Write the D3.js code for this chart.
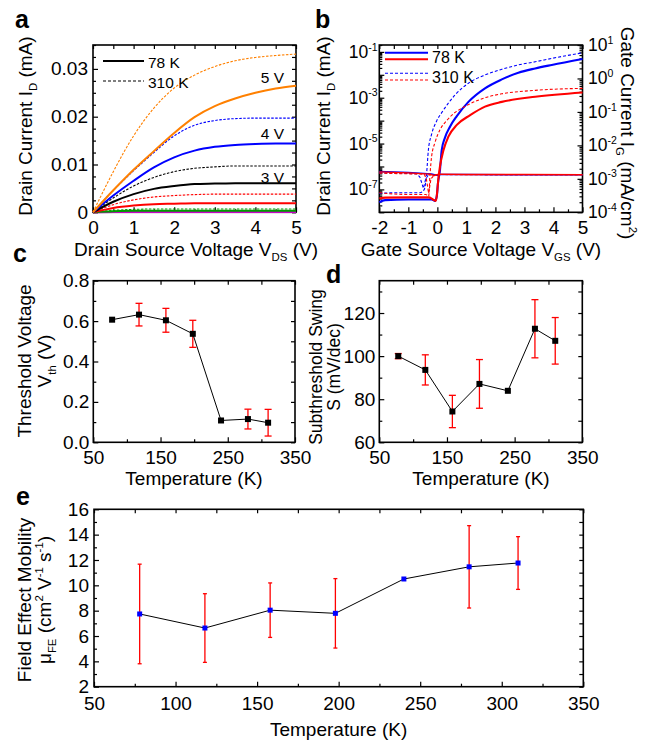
<!DOCTYPE html>
<html>
<head>
<meta charset="utf-8">
<script src="https://cdn.jsdelivr.net/npm/d3@7"></script>
<style>
  body { margin: 0; background: #fff; }
  svg { display: block; }
  text { font-family: "Liberation Sans", Arial, Helvetica, sans-serif; fill: #000; }
</style>
</head>
<body>
<svg id="fig" width="655" height="742"></svg>
<script>
// ---------- (a) output characteristics, I_D vs V_DS ----------
const vds = [0, 0.5, 1, 1.5, 2, 2.5, 3, 3.5, 4, 4.5, 5];
const id5V_78K  = [0, 0.0046, 0.0089, 0.0128, 0.0166, 0.0199, 0.0222, 0.0238, 0.0250, 0.0259, 0.0265];
const id5V_310K = [0, 0.0085, 0.0160, 0.0218, 0.0260, 0.0287, 0.0305, 0.0317, 0.0324, 0.0328, 0.0331];
const id4V_78K  = [0, 0.0035, 0.0066, 0.0094, 0.0115, 0.0129, 0.0137, 0.0141, 0.0143, 0.0144, 0.0144];
const id4V_310K = [0, 0.0046, 0.0087, 0.0125, 0.0160, 0.0182, 0.0192, 0.0196, 0.0197, 0.0197, 0.0197];
const id3V_78K  = [0, 0.0022, 0.0038, 0.0049, 0.0055, 0.0059, 0.0060, 0.0061, 0.0061, 0.0061, 0.0061];
const id3V_310K = [0, 0.0030, 0.0055, 0.0073, 0.0085, 0.0092, 0.0095, 0.0097, 0.0097, 0.0097, 0.0097];
const id2V_78K  = [0, 0.0009, 0.0014, 0.0017, 0.0018, 0.0019, 0.0019, 0.0019, 0.0019, 0.0019, 0.0019];
const id2V_310K = [0, 0.0016, 0.0026, 0.0032, 0.0035, 0.0037, 0.0038, 0.0038, 0.0038, 0.0038, 0.0038];
const id1V_78K  = [0, 0.0002, 0.0003, 0.0003, 0.0003, 0.0003, 0.0003, 0.0003, 0.0003, 0.0003, 0.0003];
const id1V_310K = [0, 0.0004, 0.0006, 0.0007, 0.0007, 0.0007, 0.0007, 0.0007, 0.0007, 0.0007, 0.0007];
const id0V_78K  = [0, 0.00005, 0.00005, 0.00005, 0.00005, 0.00005, 0.00005, 0.00005, 0.00005, 0.00005, 0.00005];
const id0V_310K = [0, 0.0001, 0.0001, 0.0001, 0.0001, 0.0001, 0.0001, 0.0001, 0.0001, 0.0001, 0.0001];
const gateLabels = ["5 V", "4 V", "3 V"];

// ---------- (b) transfer characteristics, I_D and I_G vs V_GS ----------
const vgsBlue78K = [-2, -1.8, -1.0, -0.2, -0.08, -0.02, 0.02, 0.09, 0.15, 0.26, 0.44, 0.67, 1.07, 1.64, 2.22, 2.79, 3.37, 3.94, 5];
const idBlue78K  = [2.75e-8, 3.39e-8, 3.63e-8, 3.63e-8, 3.16e-8, 5.0e-8, 1.82e-7, 6.9e-7, 5.1e-6, 1.78e-5, 5.6e-5, 1.58e-4, 6.6e-4, 2.57e-3, 6.3e-3, 1.23e-2, 1.9e-2, 2.7e-2, 4.9e-2];
const vgsRed78K  = [-2, -1.8, -1.0, -0.3, -0.14, -0.05, 0.0, 0.03, 0.09, 0.21, 0.38, 0.67, 1.13, 1.64, 2.22, 3.37, 5];
const idRed78K   = [3.98e-8, 4.37e-8, 4.47e-8, 4.47e-8, 3.55e-8, 3.16e-8, 9.3e-8, 2.5e-7, 1.0e-6, 5.1e-6, 2.0e-5, 6.5e-5, 1.74e-4, 4.1e-4, 6.6e-4, 1.1e-3, 1.7e-3];
const vgsBlue310K = [-2, -1.5, -1.0, -0.6, -0.45, -0.37, -0.31, -0.2, -0.02, 0.15, 0.61, 1.07, 1.64, 2.22, 2.79, 3.37, 3.94, 5];
const idBlue310K  = [6.6e-8, 7.1e-8, 7.1e-8, 7.1e-8, 1.0e-7, 5.0e-7, 5.1e-6, 2.5e-5, 1.0e-4, 2.24e-4, 1.32e-3, 4.3e-3, 9.8e-3, 1.74e-2, 2.7e-2, 3.7e-2, 5.2e-2, 9.1e-2];
const vgsRed310K  = [-2, -1.5, -1.0, -0.4, -0.3, -0.25, -0.2, -0.08, 0.09, 0.32, 0.5, 0.84, 1.07, 1.64, 2.22, 3.37, 5];
const idRed310K   = [7.1e-8, 6.3e-8, 6.0e-8, 6.0e-8, 5.0e-8, 5.0e-7, 2.6e-6, 1.12e-5, 4.0e-5, 1.0e-4, 1.74e-4, 3.5e-4, 5.0e-4, 1.0e-3, 1.48e-3, 2.1e-3, 2.57e-3];

const vgsGateBlue78K = [-2, -1, -0.2, 0, 0.1, 1, 3, 5];
const igBlue78K      = [1.66e-3, 1.55e-3, 1.41e-3, 1.26e-3, 1.35e-3, 1.35e-3, 1.32e-3, 1.32e-3];
const vgsGateRed78K  = [-2, -1, -0.3, -0.1, 0.05, 1, 3, 5];
const igRed78K       = [1.62e-3, 1.51e-3, 1.38e-3, 1.26e-3, 1.38e-3, 1.35e-3, 1.35e-3, 1.32e-3];
const vgsGateBlue310K = [-2, -1, -0.7, -0.6, -0.48, -0.4, -0.3, 0, 1, 3, 5];
const igBlue310K      = [1.51e-3, 1.45e-3, 1.41e-3, 1.12e-3, 5.2e-4, 1.0e-3, 1.35e-3, 1.35e-3, 1.35e-3, 1.32e-3, 1.32e-3];
const vgsGateRed310K  = [-2, -1, -0.45, -0.38, -0.3, -0.22, -0.1, 0, 1, 3, 5];
const igRed310K       = [1.48e-3, 1.41e-3, 1.38e-3, 1.0e-3, 3.7e-4, 1.0e-3, 1.32e-3, 1.35e-3, 1.32e-3, 1.32e-3, 1.32e-3];

// ---------- (c)-(e) temperature dependence ----------
const temps  = [78, 118, 158, 198, 240, 280, 310];
const vth    = [0.607, 0.632, 0.604, 0.537, 0.108, 0.115, 0.097];
const vthErr = [0, 0.056, 0.059, 0.067, 0, 0.049, 0.066];
const swing    = [100, 93.6, 74.3, 87.1, 83.9, 112.7, 107.1];
const swingErr = [1.2, 7.0, 7.5, 11.3, 0, 13.5, 10.8];
const mobility    = [7.74, 6.63, 8.04, 7.79, 10.5, 11.46, 11.76];
const mobilityErr = [3.93, 2.71, 2.15, 2.74, 0, 3.25, 2.08];

// tick layouts
const aXTicks = [0, 1, 2, 3, 4, 5];
const aYTicks = [0, 0.01, 0.02, 0.03];
const bXTicks = [-2, -1, 0, 1, 2, 3, 4, 5];
const bLeftLabelExps  = [-1, -3, -5, -7];
const bRightLabelExps = [1, 0, -1, -2, -3, -4];
const tTicks = [50, 150, 250, 350];
const cYTicks = [0, 0.2, 0.4, 0.6, 0.8];
const dYTicks = [60, 80, 100, 120];
const eXTicks = [50, 100, 150, 200, 250, 300, 350];
const eYTicks = [2, 4, 6, 8, 10, 12, 14, 16];

const BLUE = "#0000ff", RED = "#ff0000", ORANGE = "#ff8000", GREEN = "#009a00", MAGENTA = "#c800c8";
const FS = 19;
const svg = d3.select("#fig");

function styleAxis(sel, fs) {
  sel.select(".domain").remove();
  sel.selectAll("line").attr("stroke", "#000").attr("stroke-width", 1.2);
  sel.attr("font-size", fs).attr("font-family", null);
  sel.selectAll("text").attr("fill", "#000");
}

// box with inward ticks on all four sides
function frame(x, y, o) {
  const g = svg.append("g");
  const [xl, xr] = x.range(), [yb, yt] = y.range();
  const fs = o.fs || FS;
  g.append("g").attr("class", "xlab").attr("transform", `translate(0,${yb})`)
    .call(d3.axisBottom(x).tickValues(o.xMaj).tickSize(-5).tickPadding(o.xPad).tickFormat(o.xFmt || (() => "")))
    .call(s => styleAxis(s, fs));
  g.append("g").attr("transform", `translate(0,${yt})`)
    .call(d3.axisTop(x).tickValues(o.xMaj.concat(o.xMin)).tickSize(-4).tickFormat(() => ""))
    .call(s => styleAxis(s, fs));
  if (o.xMin.length)
    g.append("g").attr("transform", `translate(0,${yb})`)
      .call(d3.axisBottom(x).tickValues(o.xMin).tickSize(-3).tickFormat(() => ""))
      .call(s => styleAxis(s, fs));
  if (o.yMaj) {
    g.append("g").attr("transform", `translate(${xl},0)`)
      .call(d3.axisLeft(y).tickValues(o.yMaj).tickSize(-5).tickPadding(o.yPad).tickFormat(o.yFmt || (() => "")))
      .call(s => styleAxis(s, fs));
    g.append("g").attr("transform", `translate(${xl},0)`)
      .call(d3.axisLeft(y).tickValues(o.yMin).tickSize(-3).tickFormat(() => ""))
      .call(s => styleAxis(s, fs));
    g.append("g").attr("transform", `translate(${xr},0)`)
      .call(d3.axisRight(y).tickValues(o.yMaj.concat(o.yMin)).tickSize(-4).tickFormat(() => ""))
      .call(s => styleAxis(s, fs));
  }
  g.append("rect").attr("x", xl).attr("y", yt).attr("width", xr - xl).attr("height", yb - yt)
    .attr("fill", "none").attr("stroke", "#000").attr("stroke-width", 1.6);
  return g;
}

// text made of plain / sub / sup pieces
function richText(parent, parts, fs) {
  const t = parent.append("text").attr("font-size", fs);
  let shift = 0;
  parts.forEach(p => {
    const [s, k] = Array.isArray(p) ? p : [p, ""];
    const target = k === "sub" ? 0.28 * fs : k === "sup" ? -0.42 * fs : 0;
    t.append("tspan").attr("dy", (target - shift).toFixed(2))
      .attr("font-size", k ? (fs * 0.6).toFixed(1) : fs).text(s);
    shift = target;
  });
  return t;
}
function label(x, y, angle, parts, fs, anchor) {
  return richText(svg, parts, fs || FS)
    .attr("transform", `translate(${x},${y}) rotate(${angle || 0})`)
    .attr("text-anchor", anchor || "middle");
}
function panelLetter(s, x, y) {
  svg.append("text").attr("x", x).attr("y", y).attr("font-size", 25).attr("font-weight", "bold").text(s);
}
function minorRange(a, b, step, skip) {
  return d3.range(a, b + step / 2, step).filter(v => !skip.some(m => Math.abs(m - v) < step / 10));
}

// ================= panel a =================
const ax = d3.scaleLinear().domain([0, 5]).range([93, 296]);
const ay = d3.scaleLinear().domain([0, 0.035]).range([212.3, 45]);
frame(ax, ay, {
  xMaj: aXTicks, xMin: minorRange(0.5, 4.5, 1, []), xPad: 8, xFmt: d3.format("d"),
  yMaj: aYTicks, yMin: minorRange(0, 0.035, 0.0025, aYTicks), yPad: 5,
  yFmt: v => v === 0 ? "0" : d3.format(".2f")(v)
});
const aLine = arr => d3.line().x((d, i) => ax(vds[i])).y(d => ay(d)).curve(d3.curveMonotoneX)(arr);
const aSeries = [
  [id0V_310K, MAGENTA, true], [id0V_78K, MAGENTA, false],
  [id1V_310K, GREEN, true], [id1V_78K, GREEN, false],
  [id2V_310K, RED, true], [id2V_78K, RED, false],
  [id3V_310K, "#000", true], [id3V_78K, "#000", false],
  [id4V_310K, BLUE, true], [id4V_78K, BLUE, false],
  [id5V_310K, ORANGE, true], [id5V_78K, ORANGE, false]
];
aSeries.forEach(([arr, c, dashed]) => {
  svg.append("path").attr("d", aLine(arr)).attr("fill", "none").attr("stroke", c)
    .attr("stroke-width", dashed ? 1.1 : 2).attr("stroke-dasharray", dashed ? "2.5,1.5" : null);
});
[83, 139, 183].forEach((yb, i) => {
  svg.append("text").attr("x", 272.5).attr("y", yb).attr("text-anchor", "middle")
    .attr("font-size", 15.5).text(gateLabels[i]);
});
svg.append("line").attr("x1", 103).attr("x2", 144).attr("y1", 61).attr("y2", 61).attr("stroke", "#000").attr("stroke-width", 2);
svg.append("line").attr("x1", 103).attr("x2", 144).attr("y1", 81).attr("y2", 81).attr("stroke", "#000").attr("stroke-width", 1.1).attr("stroke-dasharray", "3,2");
svg.append("text").attr("x", 148).attr("y", 67.5).attr("font-size", 15.5).text("78 K");
svg.append("text").attr("x", 148).attr("y", 87.5).attr("font-size", 15.5).text("310 K");
label(196, 256, 0, ["Drain Source Voltage V", ["DS", "sub"], " (V)"]);
label(31.5, 126, -90, ["Drain Current I", ["D", "sub"], " (mA)"]);
panelLetter("a", 15, 28);

// ================= panel b =================
const bx = d3.scaleLinear().domain([-2, 5]).range([379.3, 582.5]);
const by = d3.scaleLog().domain([1e-8, 0.2]).range([212.3, 45]);
const byG = d3.scaleLog().domain([1e-4, 10]).range([212.3, 45]);
const decadesL = d3.range(-8, 0).map(e => Math.pow(10, e));
const minorsL = [];
d3.range(-8, 0).forEach(e => d3.range(2, 10).forEach(m => { const v = m * Math.pow(10, e); if (v <= 0.2) minorsL.push(v); }));
const decadesR = d3.range(-4, 2).map(e => Math.pow(10, e));
const minorsR = [];
d3.range(-4, 1).forEach(e => d3.range(2, 10).forEach(m => minorsR.push(m * Math.pow(10, e))));
const bg = frame(bx, by, { xMaj: bXTicks, xMin: minorRange(-1.5, 4.5, 1, []), xPad: 8, xFmt: d => d < 0 ? "-" + Math.abs(d) : String(d) });
bg.append("g").attr("transform", `translate(${bx.range()[0]},0)`)
  .call(d3.axisLeft(by).tickValues(decadesL).tickSize(-5).tickFormat(() => "")).call(s => styleAxis(s, FS));
bg.append("g").attr("transform", `translate(${bx.range()[0]},0)`)
  .call(d3.axisLeft(by).tickValues(minorsL).tickSize(-3).tickFormat(() => "")).call(s => styleAxis(s, FS));
bg.append("g").attr("transform", `translate(${bx.range()[1]},0)`)
  .call(d3.axisRight(byG).tickValues(decadesR).tickSize(-5).tickFormat(() => "")).call(s => styleAxis(s, FS));
bg.append("g").attr("transform", `translate(${bx.range()[1]},0)`)
  .call(d3.axisRight(byG).tickValues(minorsR).tickSize(-3).tickFormat(() => "")).call(s => styleAxis(s, FS));
bLeftLabelExps.forEach(e => {
  richText(svg, ["10", [String(e), "sup"]], 17.5)
    .attr("x", 377.5).attr("y", by(Math.pow(10, e)) + 6).attr("text-anchor", "end");
});
bRightLabelExps.forEach(e => {
  richText(svg, ["10", [String(e), "sup"]], 17.5)
    .attr("x", 588).attr("y", byG(Math.pow(10, e)) + 6).attr("text-anchor", "start");
});
const bLine = (xs, scaleY, curve) => d3.line().x((d, i) => bx(xs[i])).y(d => scaleY(d)).curve(curve);
const bSeries = [
  [vgsGateBlue310K, igBlue310K, byG, BLUE, true, d3.curveLinear],
  [vgsGateBlue78K, igBlue78K, byG, BLUE, false, d3.curveLinear],
  [vgsBlue310K, idBlue310K, by, BLUE, true, d3.curveMonotoneX],
  [vgsBlue78K, idBlue78K, by, BLUE, false, d3.curveMonotoneX],
  [vgsGateRed310K, igRed310K, byG, RED, true, d3.curveLinear],
  [vgsGateRed78K, igRed78K, byG, RED, false, d3.curveLinear],
  [vgsRed310K, idRed310K, by, RED, true, d3.curveMonotoneX],
  [vgsRed78K, idRed78K, by, RED, false, d3.curveMonotoneX]
];
bSeries.forEach(([xs, ys, sy, c, dashed, curve]) => {
  const isGate = sy === byG;
  svg.append("path").attr("d", bLine(xs, sy, curve)(ys)).attr("fill", "none").attr("stroke", c)
    .attr("stroke-width", dashed ? 1.1 : (isGate ? 1.4 : 2.1)).attr("stroke-dasharray", dashed ? "3,2" : null);
});
[[52.7, BLUE, false], [59.3, RED, false], [73.3, BLUE, true], [80, RED, true]].forEach(([yy, c, dashed]) => {
  svg.append("line").attr("x1", 385).attr("x2", 428).attr("y1", yy).attr("y2", yy).attr("stroke", c)
    .attr("stroke-width", dashed ? 1.1 : 2.1).attr("stroke-dasharray", dashed ? "3,2" : null);
});
svg.append("text").attr("x", 432).attr("y", 63.3).attr("font-size", 16).text("78 K");
svg.append("text").attr("x", 432).attr("y", 82.7).attr("font-size", 16).text("310 K");
label(481, 256, 0, ["Gate Source Voltage V", ["GS", "sub"], " (V)"]);
label(330, 126, -90, ["Drain Current I", ["D", "sub"], " (mA)"]);
label(621, 133, 90, ["Gate Current I", ["G", "sub"], " (mA/cm", ["2", "sup"], ")"]);
panelLetter("b", 315, 28);

// ================= shared temperature plot =================
function tempPanel(x, y, vals, errs, o) {
  const lineGen = d3.line().x((d, i) => x(temps[i])).y(d => y(d));
  const g = svg.append("g");
  vals.forEach((v, i) => {
    if (!errs[i]) return;
    const xx = x(temps[i]), y1 = y(v + errs[i]), y2 = y(v - errs[i]);
    g.append("line").attr("x1", xx).attr("x2", xx).attr("y1", y1).attr("y2", y2).attr("stroke", RED).attr("stroke-width", 1.3);
    [y1, y2].forEach(yy => g.append("line").attr("x1", xx - o.cap).attr("x2", xx + o.cap).attr("y1", yy).attr("y2", yy)
      .attr("stroke", RED).attr("stroke-width", 1.3));
  });
  g.append("path").attr("d", lineGen(vals)).attr("fill", "none").attr("stroke", "#000").attr("stroke-width", 1);
  g.selectAll("rect.pt").data(vals).join("rect").attr("class", "pt")
    .attr("x", (d, i) => x(temps[i]) - o.size / 2).attr("y", d => y(d) - o.size / 2)
    .attr("width", o.size).attr("height", o.size).attr("fill", o.color);
}

// ================= panel c =================
const cx = d3.scaleLinear().domain([50, 350]).range([93.3, 295]);
const cy = d3.scaleLinear().domain([0, 0.8]).range([442.3, 280.7]);
frame(cx, cy, {
  xMaj: tTicks, xMin: [100, 200, 300], xPad: 8, xFmt: d3.format("d"),
  yMaj: cYTicks, yMin: [0.1, 0.3, 0.5, 0.7], yPad: 4, yFmt: d3.format(".1f")
});
tempPanel(cx, cy, vth, vthErr, { cap: 3.5, size: 6, color: "#000" });
label(194, 485, 0, ["Temperature (K)"]);
label(31, 361, -90, ["Threshold Voltage"]);
label(51, 361, -90, ["V", ["th", "sub"], " (V)"]);
panelLetter("c", 13, 262);

// ================= panel d =================
const dx = d3.scaleLinear().domain([50, 350]).range([379.3, 582.3]);
const dy = d3.scaleLinear().domain([60, 135]).range([442.3, 280.7]);
frame(dx, dy, {
  xMaj: tTicks, xMin: [100, 200, 300], xPad: 8, xFmt: d3.format("d"),
  yMaj: dYTicks, yMin: [70, 90, 110, 130], yPad: 4, yFmt: d3.format("d")
});
tempPanel(dx, dy, swing, swingErr, { cap: 3.5, size: 6, color: "#000" });
label(481, 485, 0, ["Temperature (K)"]);
label(322, 367, -90, ["Subthreshold Swing"], 17.5);
label(340, 367, -90, ["S (mV/dec)"], 17.5);
panelLetter("d", 326, 283);

// ================= panel e =================
const ex = d3.scaleLinear().domain([50, 350]).range([94, 583.3]);
const ey = d3.scaleLinear().domain([2, 16]).range([686.7, 509.3]);
frame(ex, ey, {
  xMaj: eXTicks, xMin: minorRange(75, 325, 50, []), xPad: 10, xFmt: d3.format("d"),
  yMaj: eYTicks, yMin: minorRange(3, 15, 2, []), yPad: 5, yFmt: d3.format("d")
});
tempPanel(ex, ey, mobility, mobilityErr, { cap: 2, size: 5, color: BLUE });
label(338.6, 736, 0, ["Temperature (K)"]);
label(31, 600, -90, ["Field Effect Mobility"]);
label(51, 600, -90, ["\u03bc", ["FE", "sub"], " (cm", ["2", "sup"], " V", ["-1", "sup"], " s", ["-1", "sup"], ")"]);
panelLetter("e", 16, 505);
</script>
</body>
</html>
